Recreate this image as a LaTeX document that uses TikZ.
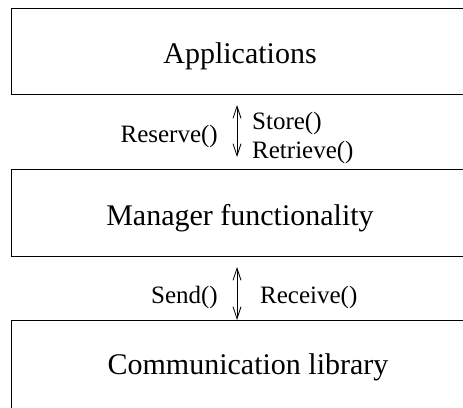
\documentclass[tikz,border=0pt]{standalone}
\usepackage{fontspec}
\setmainfont{Liberation Serif}
\usetikzlibrary{arrows.meta}
\begin{document}
\begin{tikzpicture}[x=1pt,y=-1pt,
  layer/.style={draw=black,line width=0.9pt,minimum width=460pt,inner sep=0pt,outer sep=0pt},
  big/.style={font=\fontsize{30}{36}\selectfont,anchor=base,inner sep=0pt},
  lbl/.style={font=\fontsize{25}{30}\selectfont,inner sep=0pt},
  dbl/.style={line width=0.8pt,{Straight Barb[length=12pt,width=8pt]}-{Straight Barb[length=12pt,width=8pt]}}]
\useasboundingbox (0,0) rectangle (463,407);
\node[layer,minimum height=86pt] (app) at (241,51) {};
\node[layer,minimum height=87.2pt] (mgr) at (241,213.1) {};
\node[layer,minimum height=90pt] (com) at (241,365) {};
\node[big] (apptxt) at (240,63.3) {Applications};
\node[big] (mgrtxt) at (240,225) {Manager functionality};
\node[big] (comtxt) at (248,374) {Communication library};
\coordinate (a1) at (237,105);
\coordinate (a2) at (237,157);
\draw[dbl] (a1) -- (a2);
\coordinate (b1) at (237,267);
\draw[dbl] (b1) -- (com.north -| b1);
\node[lbl,anchor=base east] (res) at (218,142) {Reserve()};
\node[lbl,anchor=base west] (sto) at (252,129.5) {Store()};
\node[lbl,anchor=base west] (ret) at (252,158.5) {Retrieve()};
\node[lbl,anchor=base east] (snd) at (218,303) {Send()};
\node[lbl,anchor=base west] (rcv) at (260,303) {Receive()};
\end{tikzpicture}
\end{document}
